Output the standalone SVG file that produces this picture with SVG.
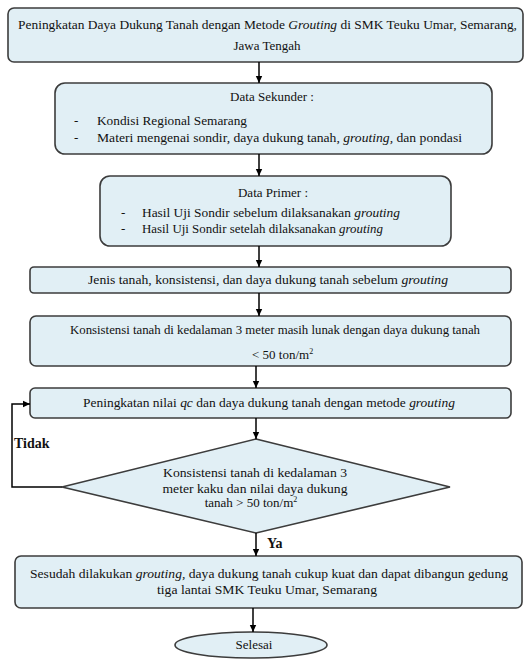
<svg xmlns="http://www.w3.org/2000/svg" width="525" height="659" viewBox="0 0 525 659">
<defs>
<marker id="ah" markerUnits="userSpaceOnUse" markerWidth="8" markerHeight="8" refX="7" refY="4" orient="auto">
<path d="M0,0.8 L7,4 L0,7.2 Z" fill="#000"/>
</marker>
<style>
.box{fill:#e1eff5;stroke:#3c3c3c;stroke-width:1.6}
.t{font-family:'Liberation Serif','Times New Roman','DejaVu Serif',serif;font-size:13px;fill:#111}
.c{text-anchor:middle}
.b{font-weight:bold;font-size:14px}
.i{font-style:italic}
.con{fill:none;stroke:#000;stroke-width:1.5}
</style>
</defs>
<rect width="525" height="659" fill="#fff"/>

<g id="n1">
<rect class="box" x="8" y="8" width="515" height="54" rx="6"/>
<text class="t" x="18" y="29" textLength="499" lengthAdjust="spacingAndGlyphs">Peningkatan Daya Dukung Tanah dengan Metode <tspan class="i">Grouting</tspan> di SMK Teuku Umar, Semarang,</text>
<text class="t c" x="267" y="50">Jawa Tengah</text>
</g>

<g id="n2">
<rect class="box" x="55" y="83" width="437" height="71" rx="10"/>
<text class="t c" x="272" y="101">Data Sekunder :</text>
<text class="t" x="74" y="125">-</text>
<text class="t" x="97" y="125" textLength="150" lengthAdjust="spacingAndGlyphs">Kondisi Regional Semarang</text>
<text class="t" x="74" y="142">-</text>
<text class="t" x="97" y="142" textLength="365" lengthAdjust="spacingAndGlyphs">Materi mengenai sondir, daya dukung tanah, <tspan class="i">grouting,</tspan> dan pondasi</text>
</g>

<g id="n3">
<rect class="box" x="100" y="176" width="351" height="70" rx="10"/>
<text class="t c" x="273" y="197">Data Primer :</text>
<text class="t" x="121" y="217">-</text>
<text class="t" x="142" y="217" textLength="258" lengthAdjust="spacingAndGlyphs">Hasil Uji Sondir sebelum dilaksanakan <tspan class="i">grouting</tspan></text>
<text class="t" x="121" y="233">-</text>
<text class="t" x="142" y="233" textLength="241" lengthAdjust="spacingAndGlyphs">Hasil Uji Sondir setelah dilaksanakan <tspan class="i">grouting</tspan></text>
</g>

<g id="n4">
<rect class="box" x="30" y="267" width="481" height="26" rx="4"/>
<text class="t" x="88" y="284" textLength="360" lengthAdjust="spacingAndGlyphs">Jenis tanah, konsistensi, dan daya dukung tanah sebelum <tspan class="i">grouting</tspan></text>
</g>

<g id="n5">
<rect class="box" x="30" y="316" width="481" height="50" rx="6"/>
<text class="t" x="70" y="334" textLength="410" lengthAdjust="spacingAndGlyphs">Konsistensi tanah di kedalaman 3 meter masih lunak dengan daya dukung tanah</text>
<text class="t" x="252" y="359">&lt; 50 ton/m<tspan font-size="8" dy="-5">2</tspan></text>
</g>

<g id="n6">
<rect class="box" x="30" y="388" width="481" height="30" rx="5"/>
<text class="t" x="83" y="407" textLength="372" lengthAdjust="spacingAndGlyphs">Peningkatan nilai <tspan class="i">qc</tspan> dan daya dukung tanah dengan metode <tspan class="i">grouting</tspan></text>
</g>

<g id="n7">
<path class="box" d="M256,439 L450,487 L256,533 L62,487 Z"/>
<text class="t c" x="255" y="477" textLength="184" lengthAdjust="spacingAndGlyphs">Konsistensi tanah di kedalaman 3</text>
<text class="t c" x="255" y="493" textLength="185" lengthAdjust="spacingAndGlyphs">meter kaku dan nilai daya dukung</text>
<text class="t c" x="251" y="507">tanah &gt; 50 ton/m<tspan font-size="8" dy="-5">2</tspan></text>
</g>

<g id="n8">
<rect class="box" x="15" y="556" width="507" height="52" rx="6"/>
<text class="t" x="30" y="578" textLength="478" lengthAdjust="spacingAndGlyphs">Sesudah dilakukan <tspan class="i">grouting,</tspan> daya dukung tanah cukup kuat dan dapat dibangun gedung</text>
<text class="t" x="157" y="594" textLength="220" lengthAdjust="spacingAndGlyphs">tiga lantai SMK Teuku Umar, Semarang</text>
</g>

<g id="n9">
<ellipse class="box" cx="251" cy="645" rx="76" ry="13"/>
<text class="t c" x="254" y="649">Selesai</text>
</g>

<g id="connectors">
<line class="con" x1="259" y1="62" x2="259" y2="83" marker-end="url(#ah)"/>
<line class="con" x1="259" y1="154" x2="259" y2="176" marker-end="url(#ah)"/>
<line class="con" x1="259" y1="246" x2="259" y2="267" marker-end="url(#ah)"/>
<line class="con" x1="259" y1="293" x2="259" y2="316" marker-end="url(#ah)"/>
<line class="con" x1="256" y1="366" x2="256" y2="388" marker-end="url(#ah)"/>
<line class="con" x1="256" y1="418" x2="256" y2="439" marker-end="url(#ah)"/>
<polyline class="con" points="62,487 12,487 12,404 30,404" marker-end="url(#ah)"/>
<line class="con" x1="256" y1="533" x2="256" y2="556" marker-end="url(#ah)"/>
<line class="con" x1="253" y1="608" x2="253" y2="632" marker-end="url(#ah)"/>
<text class="t b" x="14" y="448">Tidak</text>
<text class="t b" x="267" y="548">Ya</text>
</g>
</svg>
